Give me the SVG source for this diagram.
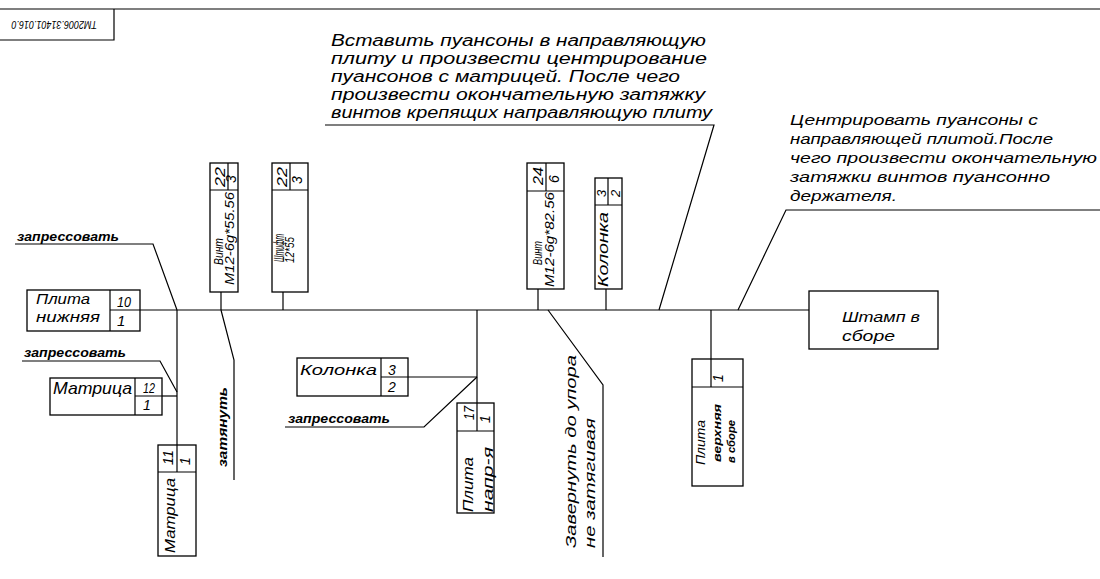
<svg xmlns="http://www.w3.org/2000/svg" width="1100" height="579" viewBox="0 0 1100 579">
<style>
.ln{stroke:#000;stroke-width:1.2;fill:none}
.bx{stroke:#000;stroke-width:1.3;fill:#fff}
.dv{stroke:#000;stroke-width:1.2;fill:none}
text{font-family:"Liberation Sans","DejaVu Sans",sans-serif;font-style:italic;fill:#000}
.s9{font-size:9px}
.s10{font-size:10px;font-weight:bold}
.s11{font-size:11px}
.s12{font-size:12px}
.s13{font-size:13px}
.s14{font-size:14px}
.s15{font-size:15px}
.s16{font-size:16px}
.s17{font-size:17px}
.lb{font-size:12px;font-weight:bold}
</style>
<rect width="1100" height="579" fill="#fff"/>
<g id="connectors">
<path class="ln" d="M0 9 H1100" stroke-width="1.6"/>
<path class="ln" d="M140 310 H809"/>
<path class="ln" d="M177 310 V472"/>
<path class="ln" d="M162 396 H177"/>
<path class="ln" d="M221 292 V310"/>
<path class="ln" d="M283 292 V310"/>
<path class="ln" d="M408 377 H477"/>
<path class="ln" d="M477 310 V431"/>
<path class="ln" d="M538 289 V310"/>
<path class="ln" d="M606 289 V310"/>
<path class="ln" d="M711 310 V387"/>
<path class="ln" d="M15 244 H153 L177 310"/>
<path class="ln" d="M22 361 H160 L177 392"/>
<path class="ln" d="M285 427 H424 L477 377"/>
<path class="ln" d="M221 310 L234 360 V480"/>
<path class="ln" d="M548 310 L603 385 V557"/>
<path class="ln" d="M325 125 H714 L659 310"/>
<path class="ln" d="M1100 210 H786 L738 310"/>
</g>
<g id="tag">
<path class="ln" d="M0 40 H114 V9"/>
<text class="s9" transform="translate(97,20.5) rotate(180) scale(1,1.3)">TM2006.31401.016.0</text>
</g>
<g id="plita-nizhnyaya">
<rect class="bx" x="27" y="290" width="113" height="41"/>
<path class="dv" d="M110 290 V331 M110 310 H140"/>
<text class="s15" x="36" y="304" textLength="54" lengthAdjust="spacingAndGlyphs">Плита</text>
<text class="s15" x="36" y="322" textLength="64" lengthAdjust="spacingAndGlyphs">нижняя</text>
<text class="s15" x="117" y="307" textLength="14" lengthAdjust="spacingAndGlyphs">10</text>
<text class="s15" x="117" y="326">1</text>
</g>
<g id="matrica-12">
<rect class="bx" x="50" y="378" width="112" height="37"/>
<path class="dv" d="M135 378 V415 M135 396 H162"/>
<text class="s17" x="53" y="394" textLength="79" lengthAdjust="spacingAndGlyphs">Матрица</text>
<text class="s14" x="143" y="393" textLength="12" lengthAdjust="spacingAndGlyphs">12</text>
<text class="s14" x="143" y="410">1</text>
</g>
<g id="matrica-11">
<rect class="bx" x="158" y="445" width="38" height="111"/>
<path class="dv" d="M158 472 H196 M177 445 V472"/>
<text class="s14" transform="translate(173,465) rotate(-90)" textLength="15" lengthAdjust="spacingAndGlyphs">11</text>
<text class="s14" transform="translate(190,465) rotate(-90)">1</text>
<text class="s15" transform="translate(175,553) rotate(-90)" textLength="75" lengthAdjust="spacingAndGlyphs">Матрица</text>
</g>
<g id="vint-22">
<rect class="bx" x="210" y="163" width="28" height="129"/>
<path class="dv" d="M210 190 H238 M228 163 V190"/>
<text class="s14" transform="translate(225,187) rotate(-90)" textLength="20" lengthAdjust="spacingAndGlyphs">22</text>
<text class="s14" transform="translate(236,183) rotate(-90)">3</text>
<text class="s13" transform="translate(223,265) rotate(-90)" textLength="27" lengthAdjust="spacingAndGlyphs">Винт</text>
<text class="s13" transform="translate(234,285) rotate(-90)" textLength="93" lengthAdjust="spacingAndGlyphs">М12-6g*55.56</text>
</g>
<g id="shtift">
<rect class="bx" x="272" y="163" width="36" height="129"/>
<path class="dv" d="M272 190 H308 M290 163 V190"/>
<text class="s14" transform="translate(287,187) rotate(-90)" textLength="20" lengthAdjust="spacingAndGlyphs">22</text>
<text class="s14" transform="translate(302,184) rotate(-90)">3</text>
<text class="s14" transform="translate(284,262) rotate(-90)" textLength="28" lengthAdjust="spacingAndGlyphs">Штифт</text>
<text class="s13" transform="translate(294,263) rotate(-90)" textLength="26" lengthAdjust="spacingAndGlyphs">12*55</text>
</g>
<g id="kolonka-h">
<rect class="bx" x="297" y="358" width="111" height="38"/>
<path class="dv" d="M381 358 V396 M381 377 H408"/>
<text class="s15" x="300" y="375" textLength="77" lengthAdjust="spacingAndGlyphs">Колонка</text>
<text class="s14" x="388" y="375">3</text>
<text class="s14" x="388" y="392">2</text>
</g>
<g id="plita-napr">
<rect class="bx" x="457" y="403" width="37" height="110"/>
<path class="dv" d="M457 431 H494 M477 403 V431"/>
<text class="s14" transform="translate(474,420) rotate(-90)" textLength="14" lengthAdjust="spacingAndGlyphs">17</text>
<text class="s14" transform="translate(490,423) rotate(-90)">1</text>
<text class="s15" transform="translate(473,512) rotate(-90)" textLength="55" lengthAdjust="spacingAndGlyphs">Плита</text>
<text class="s15" transform="translate(493,512) rotate(-90)" textLength="65" lengthAdjust="spacingAndGlyphs">напр-я</text>
</g>
<g id="vint-24">
<rect class="bx" x="527" y="163" width="37" height="126"/>
<path class="dv" d="M527 191 H564 M546 163 V191"/>
<text class="s14" transform="translate(543,185) rotate(-90)" textLength="18" lengthAdjust="spacingAndGlyphs">24</text>
<text class="s14" transform="translate(559,183) rotate(-90)">6</text>
<text class="s13" transform="translate(542,265) rotate(-90)" textLength="24" lengthAdjust="spacingAndGlyphs">Винт</text>
<text class="s13" transform="translate(554,287) rotate(-90)" textLength="95" lengthAdjust="spacingAndGlyphs">М12-6g*82.56</text>
</g>
<g id="kolonka-v">
<rect class="bx" x="595" y="178" width="27" height="111"/>
<path class="dv" d="M595 205 H622 M608 178 V205"/>
<text class="s13" transform="translate(606,197) rotate(-90)">3</text>
<text class="s13" transform="translate(620,197) rotate(-90)">2</text>
<text class="s15" transform="translate(608,287) rotate(-90)" textLength="75" lengthAdjust="spacingAndGlyphs">Колонка</text>
</g>
<g id="plita-verkhnyaya">
<rect class="bx" x="692" y="359" width="51" height="127"/>
<path class="dv" d="M692 387 H743 M711 359 V387"/>
<text class="s14" transform="translate(723,382) rotate(-90)">1</text>
<text class="s13" transform="translate(705,465) rotate(-90)" textLength="45" lengthAdjust="spacingAndGlyphs">Плита</text>
<text class="s10" transform="translate(721,462) rotate(-90)" textLength="58" lengthAdjust="spacingAndGlyphs">верхняя</text>
<text class="s10" transform="translate(735,463) rotate(-90)" textLength="43" lengthAdjust="spacingAndGlyphs">в сборе</text>
</g>
<g id="shtamp">
<rect class="bx" x="809" y="291" width="129" height="58"/>
<text class="s15" x="842" y="322" textLength="78" lengthAdjust="spacingAndGlyphs">Штамп в</text>
<text class="s15" x="842" y="341" textLength="53" lengthAdjust="spacingAndGlyphs">сборе</text>
</g>
<g id="labels">
<text class="lb" x="17" y="241" textLength="102" lengthAdjust="spacingAndGlyphs">запрессовать</text>
<text class="lb" x="24" y="357" textLength="102" lengthAdjust="spacingAndGlyphs">запрессовать</text>
<text class="lb" x="288" y="423" textLength="102" lengthAdjust="spacingAndGlyphs">запрессовать</text>
<text class="s13" font-weight="bold" transform="translate(227,467) rotate(-90)" textLength="80" lengthAdjust="spacingAndGlyphs">затянуть</text>
<text class="s15" transform="translate(576,548) rotate(-90)" textLength="193" lengthAdjust="spacingAndGlyphs">Завернуть до упора</text>
<text class="s15" transform="translate(595,548) rotate(-90)" textLength="130" lengthAdjust="spacingAndGlyphs">не затягивая</text>
</g>
<g id="note-left">
<text class="s16" x="331" y="46" textLength="375" lengthAdjust="spacingAndGlyphs">Вставить пуансоны в направляющую</text>
<text class="s16" x="331" y="64" textLength="376" lengthAdjust="spacingAndGlyphs">плиту и произвести центрирование</text>
<text class="s16" x="331" y="82" textLength="349" lengthAdjust="spacingAndGlyphs">пуансонов с матрицей. После чего</text>
<text class="s16" x="331" y="100" textLength="374" lengthAdjust="spacingAndGlyphs">произвести окончательную затяжку</text>
<text class="s16" x="331" y="118" textLength="381" lengthAdjust="spacingAndGlyphs">винтов крепящих направляющую плиту</text>
</g>
<g id="note-right">
<text class="s15" x="790" y="125" textLength="248" lengthAdjust="spacingAndGlyphs">Центрировать пуансоны с</text>
<text class="s15" x="790" y="144" textLength="263" lengthAdjust="spacingAndGlyphs">направляющей плитой.После</text>
<text class="s15" x="790" y="163" textLength="307" lengthAdjust="spacingAndGlyphs">чего произвести окончательную</text>
<text class="s15" x="790" y="182" textLength="260" lengthAdjust="spacingAndGlyphs">затяжки винтов пуансонно</text>
<text class="s15" x="790" y="201" textLength="107" lengthAdjust="spacingAndGlyphs">держателя.</text>
</g>
</svg>
